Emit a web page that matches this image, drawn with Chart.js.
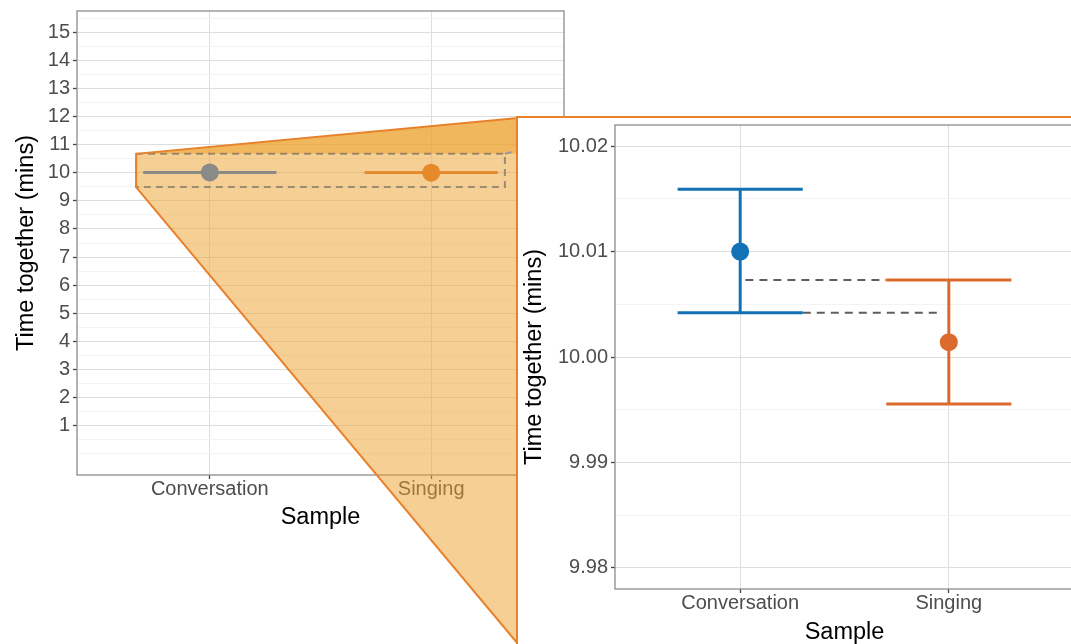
<!DOCTYPE html>
<html>
<head>
  <meta charset="utf-8">
  <title>Time together: overview and zoom</title>
  <script src="https://cdn.jsdelivr.net/npm/chart.js"></script>
  <style>
    html, body { margin: 0; padding: 0; overflow: hidden; background: #fff; }
    body { position: relative; width: 1071px; height: 644px; }
    #overview { position: absolute; left: 0; top: 0; }
    #zoomPanel {
      position: absolute; left: 516px; top: 116px;
      width: 556px; height: 528px;
      border-left: 2px solid #e8812b; border-top: 2px solid #e8812b;
      background: #fff;
    }
    #detail { display: block; }
  </style>
</head>
<body>

  <canvas id="overview" width="1071" height="644"></canvas>
  <div id="zoomPanel"><canvas id="detail" width="556" height="526"></canvas></div>

  <script>
    // data
    const categories = ['Conversation', 'Singing'];
    const means = [10.0100, 10.0014];
    const ciLower = [10.0042, 9.99555];
    const ciUpper = [10.0159, 10.0073];

    // tick values
    const overviewYMajor = [1, 2, 3, 4, 5, 6, 7, 8, 9, 10, 11, 12, 13, 14, 15];
    const overviewYMinor = [0, 0.5, 1.5, 2.5, 3.5, 4.5, 5.5, 6.5, 7.5, 8.5, 9.5, 10.5, 11.5, 12.5, 13.5, 14.5, 15.5];
    const detailYMajor = [9.98, 9.99, 10.00, 10.01, 10.02];
    const detailYMinor = [9.985, 9.995, 10.005, 10.015];

    // zoomed region shown in the overview (data units)
    const zoomX = [0.667, 2.333];
    const zoomY = [9.49, 10.67];

    const capHalf = 0.3;
    Chart.defaults.font.family = "'Liberation Sans', Arial, Helvetica, sans-serif";

    function errorBarSets(colors, lineWidth, radius) {
      const sets = [];
      categories.forEach((c, i) => {
        sets.push({ data: [{ x: i + 1, y: means[i] }], backgroundColor: colors[i],
                    pointRadius: radius, pointBorderWidth: 0 });
      });
      categories.forEach((c, i) => {
        const x = i + 1;
        const seg = pts => ({ data: pts, showLine: true, borderColor: colors[i],
                              borderWidth: lineWidth, pointRadius: 0 });
        sets.push(seg([{ x: x, y: ciLower[i] }, { x: x, y: ciUpper[i] }]));
        sets.push(seg([{ x: x - capHalf, y: ciUpper[i] }, { x: x + capHalf, y: ciUpper[i] }]));
        sets.push(seg([{ x: x - capHalf, y: ciLower[i] }, { x: x + capHalf, y: ciLower[i] }]));
      });
      return sets;
    }

    function noPad(s) { s.paddingLeft = s.paddingRight = s.paddingTop = s.paddingBottom = 0; }

    function axes(o) {
      return {
        x: {
          type: 'linear', min: 0.4, max: 2.6, bounds: 'data',
          afterBuildTicks: s => { s.ticks = categories.map((c, i) => ({ value: i + 1 })); },
          afterFit: s => { s.height = o.xHeight; noPad(s); },
          ticks: { callback: (v, i) => categories[i], color: '#4d4d4d', padding: 0,
                   font: { size: 20, lineHeight: 1 }, autoSkip: false, maxRotation: 0 },
          grid: { color: '#dedede', lineWidth: 1, tickLength: 4, tickColor: '#444', tickWidth: 1.3 },
          border: { display: false },
          title: { display: true, text: 'Sample', color: '#000', font: { size: 23.5, lineHeight: 1 },
                   padding: { top: 0, bottom: o.xTitlePad } }
        },
        y: {
          type: 'linear', min: o.yMin, max: o.yMax, bounds: 'data',
          afterBuildTicks: s => {
            s.ticks = o.major.concat(o.minor).sort((a, b) => a - b)
              .map(v => ({ value: v, minor: !o.major.includes(v) }));
          },
          afterFit: s => { s.width = o.yWidth; noPad(s); },
          ticks: { callback: (v, i, t) => t[i].minor ? '' : o.fmt(v), color: '#4d4d4d', padding: 3,
                   font: { size: 20, lineHeight: 1 }, autoSkip: false },
          grid: {
            color: c => (c.tick && c.tick.minor) ? '#f3f3f3' : '#dedede',
            tickColor: c => (c.tick && c.tick.minor) ? 'rgba(0,0,0,0)' : '#444',
            lineWidth: 1, tickLength: 4, tickWidth: 1.3
          },
          border: { display: false },
          title: { display: true, text: 'Time together (mins)', color: '#000',
                   font: { size: 23.5, lineHeight: 1 },
                   padding: { top: o.yTitlePad, bottom: 0 } }
        }
      };
    }

    const panelBorder = {
      id: 'panelBorder',
      beforeDatasetsDraw(chart) {
        const { ctx, chartArea: a } = chart;
        ctx.save();
        ctx.strokeStyle = '#8c8c8c';
        ctx.lineWidth = 1.3;
        ctx.strokeRect(a.left, a.top, a.right - a.left, a.bottom - a.top);
        ctx.restore();
      }
    };

    const zoomWedge = {
      id: 'zoomWedge',
      beforeDatasetsDraw(chart) {
        const { ctx, scales: { x, y } } = chart;
        const base = chart.canvas.getBoundingClientRect();
        const target = document.getElementById('detail').getBoundingClientRect();
        const tx = target.left - base.left, tTop = target.top - base.top, tBot = target.bottom - base.top;
        const x0 = x.getPixelForValue(zoomX[0]), x1 = x.getPixelForValue(zoomX[1]);
        const y0 = y.getPixelForValue(zoomY[1]), y1 = y.getPixelForValue(zoomY[0]);
        ctx.save();
        ctx.fillStyle = 'rgba(236,160,40,0.5)';
        ctx.beginPath();
        ctx.moveTo(x0, y0); ctx.lineTo(tx, tTop); ctx.lineTo(tx, tBot); ctx.lineTo(x0, y1);
        ctx.closePath(); ctx.fill();
        ctx.beginPath();
        ctx.moveTo(x0, y0); ctx.lineTo(tx, tTop); ctx.lineTo(tx, y0);
        ctx.closePath(); ctx.fill();

        // dashed box around the zoomed region
        ctx.setLineDash([7, 5]);
        ctx.lineWidth = 2;
        ctx.strokeStyle = 'rgba(100,95,90,0.6)';
        ctx.strokeRect(x0, y0, x1 - x0, y1 - y0);
        const dc = Chart.getChart('detail');
        if (dc) {
          ctx.strokeStyle = 'rgba(140,150,165,0.9)';
          ctx.beginPath();
          ctx.moveTo(x1, y0);
          ctx.lineTo(tx + dc.chartArea.left, tTop + dc.chartArea.top);
          ctx.stroke();
        }

        ctx.setLineDash([]);
        ctx.strokeStyle = '#e8812b';
        ctx.lineWidth = 2;
        ctx.beginPath();
        ctx.moveTo(tx, tTop); ctx.lineTo(x0, y0); ctx.lineTo(x0, y1); ctx.lineTo(tx, tBot);
        ctx.stroke();
        ctx.restore();
      }
    };

    const common = {
      animation: false,
      responsive: false,
      events: [],
      plugins: { legend: { display: false }, tooltip: { enabled: false } }
    };

    // zoomed-in panel
    const detailSets = errorBarSets(['#1372b6', '#db6a2c'], 3, 9);
    detailSets.push({ data: [{ x: 1 + 0.025, y: ciUpper[1] }, { x: 2 - capHalf, y: ciUpper[1] }],
                      showLine: true, borderDash: [8, 6], borderColor: '#5e5e5e', borderWidth: 2, pointRadius: 0 });
    detailSets.push({ data: [{ x: 1 + capHalf, y: ciLower[0] }, { x: 2 - 0.03, y: ciLower[0] }],
                      showLine: true, borderDash: [8, 6], borderColor: '#5e5e5e', borderWidth: 2, pointRadius: 0 });

    new Chart(document.getElementById('detail'), {
      type: 'scatter',
      data: { datasets: detailSets },
      options: Object.assign({}, common, {
        layout: { autoPadding: false, padding: { left: 0, top: 7, right: 0, bottom: 0 } },
        scales: axes({ yMin: 9.978, yMax: 10.022, major: detailYMajor, minor: detailYMinor,
                       fmt: v => v.toFixed(2), yWidth: 97, xHeight: 55, xTitlePad: 0, yTitlePad: 5 })
      }),
      plugins: [panelBorder]
    });

    // overview panel
    new Chart(document.getElementById('overview'), {
      type: 'scatter',
      data: { datasets: errorBarSets(['#8a8a88', '#e5892b'], 2.6, 9) },
      options: Object.assign({}, common, {
        layout: { autoPadding: false, padding: { left: 0, top: 11, right: 507, bottom: 111 } },
        scales: axes({ yMin: -0.75, yMax: 15.75, major: overviewYMajor, minor: overviewYMinor,
                       fmt: v => String(v), yWidth: 77, xHeight: 58, xTitlePad: 4, yTitlePad: 15 })
      }),
      plugins: [panelBorder, zoomWedge]
    });
  </script>
</body>
</html>
